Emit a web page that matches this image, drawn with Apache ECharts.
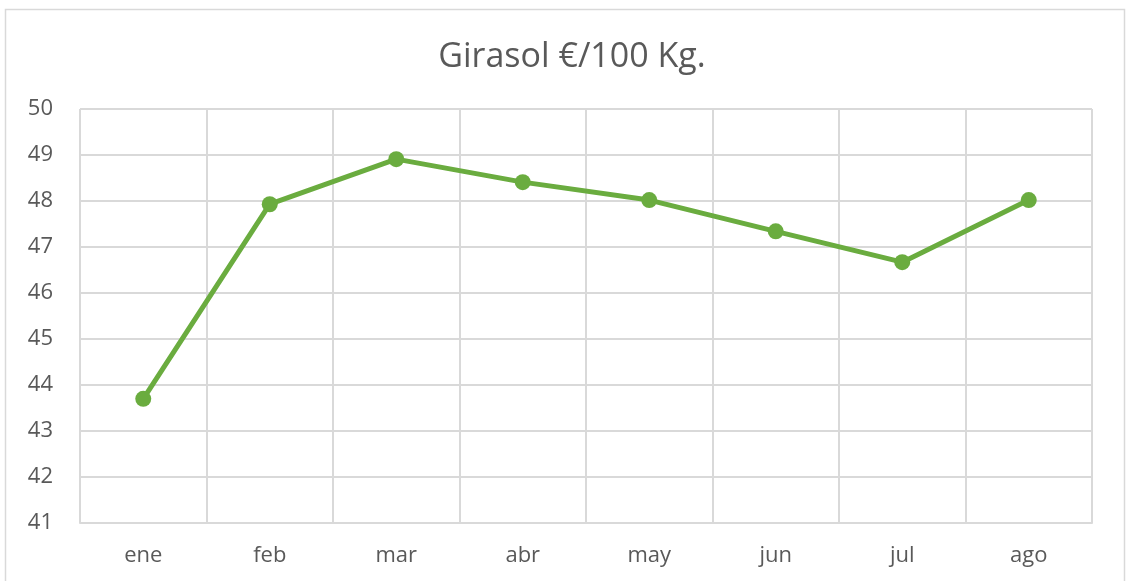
<!DOCTYPE html>
<html>
<head>
<meta charset="utf-8">
<script src="https://cdn.jsdelivr.net/npm/echarts@6/dist/echarts.min.js"></script>
<style>
  html, body { margin: 0; padding: 0; background: #fff; }
  #chart { width: 1126px; height: 581px; }
</style>
</head>
<body>
<div id="chart"></div>
<script>
  var months = ['ene', 'feb', 'mar', 'abr', 'may', 'jun', 'jul', 'ago'];
  var prices = [43.70, 47.93, 48.91, 48.41, 48.02, 47.34, 46.67, 48.02];
  var titleText = 'Girasol €/100 Kg.';

  var font = '"Open Sans", Lato, sans-serif';
  var gridColor = '#d9d9d9';

  var myChart = echarts.init(document.getElementById('chart'));
  myChart.setOption({
    animation: false,
    title: {
      text: titleText,
      left: 567,
      textAlign: 'center',
      top: 35,
      textStyle: { fontFamily: font, fontSize: 34, fontWeight: 'normal', color: '#595959' }
    },
    graphic: [{
      type: 'rect',
      shape: { x: 5.5, y: 9.5, width: 1119, height: 620 },
      style: { fill: 'none', stroke: gridColor, lineWidth: 1.5 },
      silent: true
    }],
    grid: { left: 80, right: 34, top: 109, bottom: 58 },
    xAxis: {
      type: 'category',
      data: months,
      boundaryGap: true,
      axisLine: { show: true, lineStyle: { color: gridColor, width: 2 } },
      axisTick: { show: false },
      splitLine: { show: true, lineStyle: { color: gridColor, width: 2 } },
      axisLabel: { fontFamily: font, fontSize: 22, color: '#595959', margin: 22 }
    },
    yAxis: {
      type: 'value',
      min: 41,
      max: 50,
      interval: 1,
      axisLine: { show: false },
      axisTick: { show: false },
      splitLine: { lineStyle: { color: gridColor, width: 2 } },
      axisLabel: { fontFamily: font, fontSize: 22, color: '#595959', margin: 27 }
    },
    series: [{
      type: 'line',
      data: prices,
      symbol: 'circle',
      symbolSize: 16,
      lineStyle: { color: '#6aac3f', width: 5 },
      itemStyle: { color: '#6aac3f' }
    }]
  });

  window.addEventListener('resize', function () {
    myChart.resize();
  });
</script>
</body>
</html>
